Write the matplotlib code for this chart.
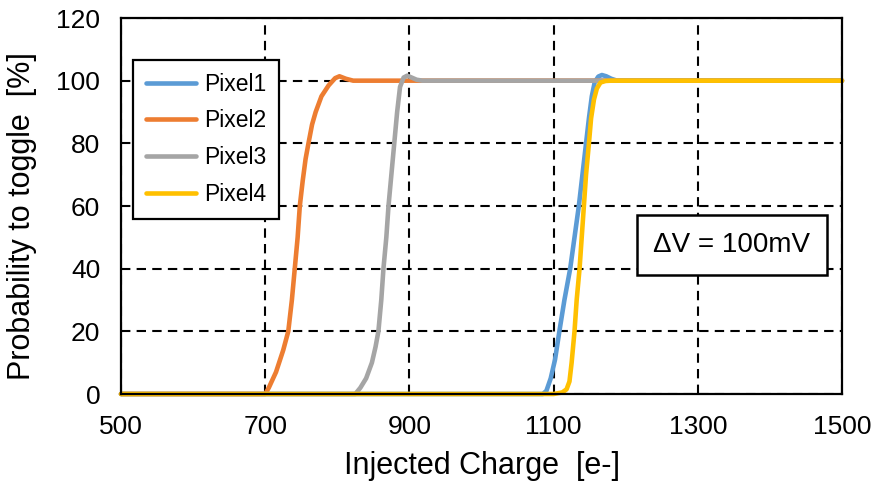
import matplotlib
matplotlib.use("Agg")
import matplotlib.pyplot as plt

plt.rcParams['font.family'] = ['Liberation Sans', 'DejaVu Sans']

# ---- data ----
p1_x = [500, 1085, 1090, 1096, 1102, 1108, 1115, 1123, 1129, 1135, 1140, 1145, 1149, 1153, 1157, 1162, 1167, 1173, 1180, 1188, 1500]
p1_y = [0, 0, 1, 5, 11, 20, 30, 40, 50, 60, 70, 80, 88, 95, 99.5, 101.3, 101.8, 101.4, 100.6, 100, 100]

p2_x = [500, 700, 705, 715, 725, 732, 737, 741, 745, 748, 752, 756, 760, 765, 770, 778, 788, 797, 803, 812, 822, 1500]
p2_y = [0, 0, 2, 7, 14, 20, 30, 40, 50, 60, 68, 75, 80, 86, 90, 95, 98.5, 100.8, 101.4, 100.6, 100, 100]

p3_x = [500, 825, 832, 840, 848, 853, 857, 861, 864, 868, 871, 875, 879, 883, 887, 892, 897, 903, 910, 918, 1500]
p3_y = [0, 0, 2, 5, 10, 15, 20, 30, 40, 50, 60, 70, 80, 90, 98, 101, 101.6, 101, 100.3, 100, 100]

p4_x = [500, 1100, 1112, 1118, 1122, 1125, 1129, 1132, 1136, 1139, 1142, 1145, 1149, 1152, 1156, 1160, 1165, 1172, 1180, 1500]
p4_y = [0, 0, 0.5, 1.5, 4, 10, 20, 30, 40, 50, 60, 70, 80, 88, 94, 97.5, 99.4, 99.9, 100, 100]

series_names = ["Pixel1", "Pixel2", "Pixel3", "Pixel4"]
series_colors = ["#5B9BD5", "#ED7D31", "#A5A5A5", "#FFC000"]

x_ticks = [500, 700, 900, 1100, 1300, 1500]
y_ticks = [0, 20, 40, 60, 80, 100, 120]

# ---- figure ----
fig = plt.figure(figsize=(8.72, 4.82), dpi=100)
ax = fig.add_axes([121/872, 1 - 394/482, (842-121)/872, (394-18)/482])

for xs, ys, name, col in zip([p1_x, p2_x, p3_x, p4_x], [p1_y, p2_y, p3_y, p4_y],
                             series_names, series_colors):
    ax.plot(xs, ys, color=col, lw=3.3, label=name, solid_capstyle='round',
            solid_joinstyle='round', clip_on=False)

ax.set_xlim(500, 1500)
ax.set_ylim(0, 120)
ax.set_xticks(x_ticks)
ax.set_yticks(y_ticks)
ax.tick_params(length=0, labelsize=19, pad=15)
ax.grid(True, color='black', lw=1.5, linestyle=(0, (4.5, 3)))
ax.set_axisbelow(True)
for s in ax.spines.values():
    s.set_linewidth(1.6)
    s.set_color('black')

ax.set_xlabel("Injected Charge  [e-]", fontsize=22, labelpad=9)
ax.set_ylabel("Probability to toggle  [%]", fontsize=22)
ax.yaxis.set_label_coords(-0.116, 0.473)

leg = ax.legend(loc='upper left', bbox_to_anchor=(0.0166, 0.888), fontsize=16.5,
                frameon=True, fancybox=False, edgecolor='black', handlelength=2.2,
                labelspacing=0.6, borderpad=0.55, handletextpad=0.35, borderaxespad=0)
leg.get_frame().set_linewidth(1.6)
leg.get_frame().set_alpha(1)
for h in leg.get_lines():
    h.set_linewidth(3.3)

ax.text(0.847, 0.396, "\u0394V = 100mV", transform=ax.transAxes, fontsize=20,
        ha='center', va='center',
        bbox=dict(boxstyle='square,pad=0.6', facecolor='white', edgecolor='black', lw=1.8))

fig.savefig("out.png", dpi=100)
